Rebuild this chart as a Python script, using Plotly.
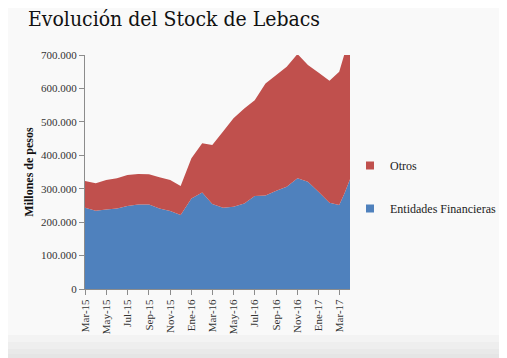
import plotly.graph_objects as go

# ---- data (millones de pesos) ----
fechas = ["2015-03-01", "2015-04-01", "2015-05-01", "2015-06-01", "2015-07-01",
          "2015-08-01", "2015-09-01", "2015-10-01", "2015-11-01", "2015-12-01",
          "2016-01-01", "2016-02-01", "2016-03-01", "2016-04-01", "2016-05-01",
          "2016-06-01", "2016-07-01", "2016-08-01", "2016-09-01", "2016-10-01",
          "2016-11-01", "2016-12-01", "2017-01-01", "2017-02-01", "2017-03-01",
          "2017-03-16", "2017-04-01"]
entidades = [243000, 234000, 238000, 241000, 248000, 253000, 253000, 241000, 233000,
             221000, 271000, 289000, 254000, 243000, 246000, 256000, 278000, 280000,
             294000, 306000, 331000, 321000, 290000, 258000, 251000, 286000, 328000]
otros = [80000, 82000, 88000, 90000, 93000, 91000, 90000, 93000, 93000, 87000,
         120000, 147000, 177000, 228000, 265000, 284000, 287000, 335000, 346000,
         359000, 372000, 349000, 357000, 365000, 399000, 417000, 375000]

tick_fechas = ["2015-03-01", "2015-05-01", "2015-07-01", "2015-09-01", "2015-11-01",
               "2016-01-01", "2016-03-01", "2016-05-01", "2016-07-01", "2016-09-01",
               "2016-11-01", "2017-01-01", "2017-03-01"]
tick_labels = ["Mar-15", "May-15", "Jul-15", "Sep-15", "Nov-15", "Ene-16", "Mar-16",
               "May-16", "Jul-16", "Sep-16", "Nov-16", "Ene-17", "Mar-17"]
y_ticks = [0, 100000, 200000, 300000, 400000, 500000, 600000, 700000]

AZUL = "#4F81BD"
ROJO = "#C0504D"
FONT = "Liberation Serif"

# the page body adds an 8px offset; the figure is sized to fill the rest
W, H = 499, 350

fig = go.Figure()
fig.add_trace(go.Scatter(x=fechas, y=entidades, stackgroup="s", mode="none",
                         fillcolor=AZUL, name="Entidades Financieras", showlegend=False))
fig.add_trace(go.Scatter(x=fechas, y=otros, stackgroup="s", mode="none",
                         fillcolor=ROJO, name="Otros", showlegend=False))
# legend entries (square markers)
fig.add_trace(go.Scatter(x=[None], y=[None], mode="markers", name="Otros",
                         legendgroup="a",
                         marker=dict(symbol="square", size=8, color=ROJO)))
fig.add_trace(go.Scatter(x=[None], y=[None], mode="markers", name="Entidades Financieras",
                         legendgroup="b",
                         marker=dict(symbol="square", size=8, color=AZUL)))

# bottom grey band (page gradient), in paper units below the plot
shapes = []
bands = [(-0.197, "#F3F3F3"), (-0.226, "#EEEEEE"), (-0.256, "#E9E9E9"), (-0.278, "#E5E5E5")]
for y1, c in bands:
    shapes.append(dict(type="rect", xref="paper", yref="paper", x0=-0.4, x1=1.7,
                       y0=-0.35, y1=y1, layer="below",
                       fillcolor=c, line=dict(width=0)))

fig.update_layout(
    width=W, height=H,
    margin=dict(l=77, r=152, t=47, b=69),
    paper_bgcolor="#F9F9F9",
    plot_bgcolor="rgba(0,0,0,0)",
    separators=",.",
    shapes=shapes,
    font=dict(family=FONT, size=11, color="#333333"),
    title=dict(text="Evolución del Stock de Lebacs", xref="container", yref="container",
               x=20 / W, xanchor="left", y=0.99, yanchor="top",
               font=dict(family="DejaVu Serif Condensed, Liberation Serif", size=21,
                         color="#111111")),
    legend=dict(xref="container", yref="container",
                x=342 / W, xanchor="left", y=1 - 143 / H, yanchor="top",
                traceorder="grouped", tracegroupgap=24,
                font=dict(family=FONT, size=12, color="#222222"),
                bgcolor="rgba(0,0,0,0)"),
    showlegend=True,
)

fig.update_yaxes(range=[0, 700000], tickvals=y_ticks, tickformat=",d", automargin=False,
                 showgrid=False, zeroline=False, showline=True, linecolor="#8C8C8C",
                 linewidth=1, ticks="outside", ticklen=5, tickcolor="#8C8C8C",
                 tickfont=dict(family=FONT, size=11, color="#333333"),
                 title=dict(text="<b>Millones de pesos</b>", standoff=4,
                            font=dict(family=FONT, size=12, color="#111111")))
fig.update_xaxes(type="date", range=["2015-03-01", "2017-04-01"], automargin=False,
                 tickvals=tick_fechas, ticktext=tick_labels, tickangle=-90,
                 showgrid=False, zeroline=False, showline=True, linecolor="#8C8C8C",
                 linewidth=1, ticks="outside", ticklen=5, tickcolor="#8C8C8C",
                 tickfont=dict(family=FONT, size=11, color="#333333"))

fig.write_html("out.html")
